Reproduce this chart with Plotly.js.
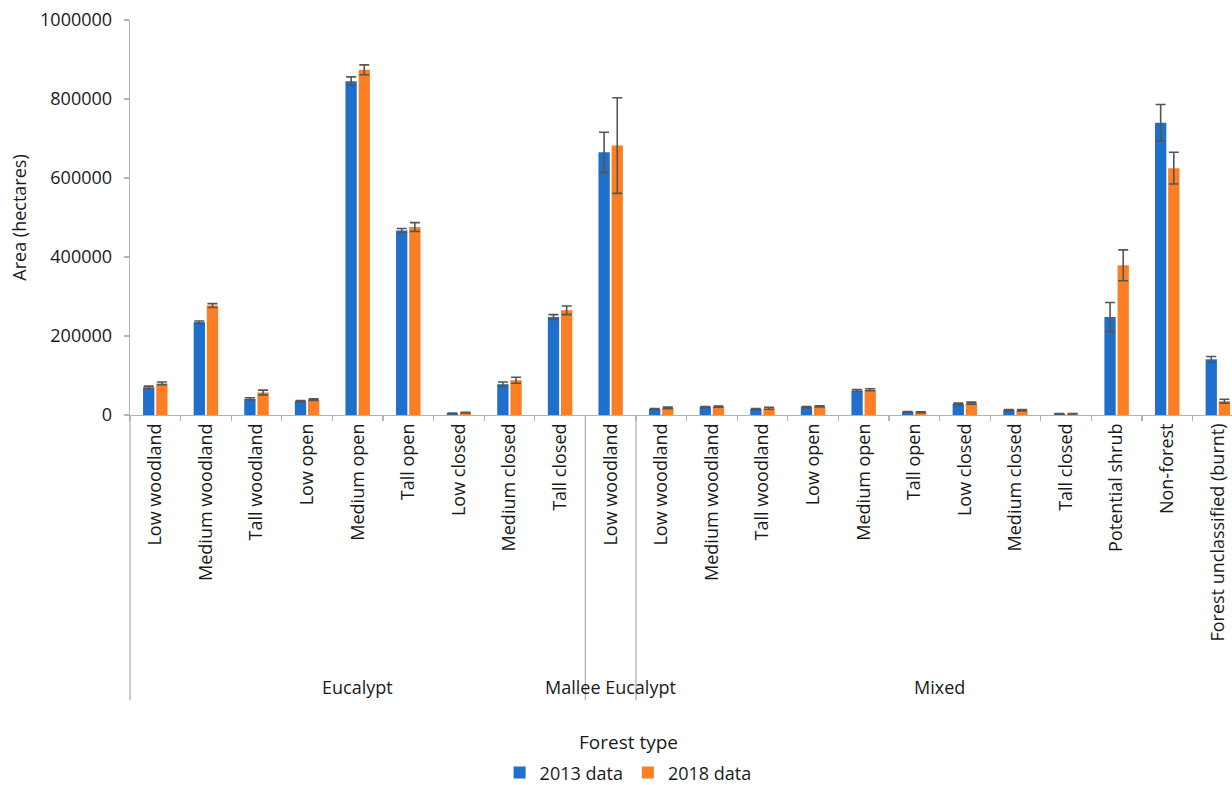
<!DOCTYPE html>
<html>
<head>
<meta charset="utf-8">
<script src="https://cdn.plot.ly/plotly-3.0.1.min.js"></script>
<style>
  html, body { margin: 0; padding: 0; background: #ffffff; }
  #chart { width: 1232px; height: 785px; }
</style>
</head>
<body>
<div id="chart"></div>
<script>
// Category labels (in order along the x-axis)
const categories = [
  "Low woodland", "Medium woodland", "Tall woodland", "Low open", "Medium open",
  "Tall open", "Low closed", "Medium closed", "Tall closed",
  "Low woodland",
  "Low woodland", "Medium woodland", "Tall woodland", "Low open", "Medium open",
  "Tall open", "Low closed", "Medium closed", "Tall closed",
  "Potential shrub", "Non-forest", "Forest unclassified (burnt)"
];

// Group names and how many categories each group covers
const groupNames = ["Eucalypt", "Mallee Eucalypt", "Mixed"];
const groupSizes = [9, 1, 12];

// Series values (hectares) and error bar half-lengths
const data2013 = [70000, 235000, 41000, 35000, 845000, 467000, 4000, 78000, 248000,
                  665000,
                  15000, 20000, 15000, 20000, 62000, 8000, 28000, 12000, 3000, 248000, 740000, 141000];
const err2013  = [3000, 3000, 2500, 1500, 11000, 5000, 1000, 5500, 6000,
                  51000,
                  1500, 1500, 1500, 1500, 2500, 1000, 2000, 1500, 500, 37000, 46000, 7000];
const data2018 = [80000, 277000, 57000, 39000, 874000, 476000, 6000, 88000, 265000,
                  682000,
                  18000, 21000, 17000, 22000, 64000, 7000, 30000, 12000, 3000, 379000, 625000, 35000];
const err2018  = [3500, 5000, 6000, 2000, 12500, 11000, 1000, 7500, 11000,
                  121000,
                  2000, 1500, 2500, 1500, 2500, 1000, 2500, 1500, 500, 39000, 40000, 5000];

const seriesNames = ["2013 data", "2018 data"];
const yTicks = [0, 200000, 400000, 600000, 800000, 1000000];
const xTitle = "Forest type";
const yTitle = "Area (hectares)";

// Category positions as indices so repeated labels stay separate
const xIdx = categories.map((_, i) => i);

const FONT = "Open Sans, Liberation Sans, sans-serif";
const AXIS_COLOR = "#b3b3b3";
const BLUE = "#1f6fcc";
const ORANGE = "#fd7f24";
const ERR_COLOR = "#555555";
const TEXT = "#1a1a1a";

const traces = [
  {
    type: "bar", name: seriesNames[0], x: xIdx, y: data2013,
    marker: { color: BLUE },
    error_y: { type: "data", array: err2013, visible: true, color: ERR_COLOR, thickness: 1.6, width: 5 }
  },
  {
    type: "bar", name: seriesNames[1], x: xIdx, y: data2018,
    marker: { color: ORANGE },
    error_y: { type: "data", array: err2018, visible: true, color: ERR_COLOR, thickness: 1.6, width: 5 }
  },
  // empty trace to activate the boundary tick axis
  { type: "scatter", x: [], y: [], xaxis: "x2", yaxis: "y", showlegend: false, hoverinfo: "skip" }
];

// Group dividers and labels, derived from group sizes
const shapes = [];
const annotations = [];
const BELOW = -0.722;  // how far dividers run below the axis (paper units)
shapes.push({ type: "line", xref: "paper", yref: "paper", x0: 0, x1: 0, y0: 0, y1: BELOW,
              line: { color: AXIS_COLOR, width: 1.3 } });
let start = 0;
groupNames.forEach((g, gi) => {
  const end = start + groupSizes[gi];
  annotations.push({
    xref: "x", yref: "paper", x: (start + end - 1) / 2, y: -0.689,
    text: g, showarrow: false, xanchor: "center", yanchor: "middle",
    font: { family: FONT, size: 18, color: TEXT }
  });
  if (gi < groupNames.length - 1) {
    shapes.push({ type: "line", xref: "x", yref: "paper", x0: end - 0.5, x1: end - 0.5, y0: 0, y1: BELOW,
                  line: { color: AXIS_COLOR, width: 1.3 } });
  }
  start = end;
});
annotations.push({
  xref: "paper", yref: "paper", x: 0.452, y: -0.828,
  text: xTitle, showarrow: false, xanchor: "center", yanchor: "middle",
  font: { family: FONT, size: 19, color: TEXT }
});

const layout = {
  width: 1232, height: 785,
  margin: { l: 130, r: 0, t: 20, b: 370, autoexpand: false },
  paper_bgcolor: "#ffffff", plot_bgcolor: "#ffffff",
  font: { family: FONT, size: 18, color: TEXT },
  barmode: "group",
  bargap: 0.48,
  bargroupgap: 0.14,
  showlegend: true,
  legend: {
    orientation: "h", x: 0.452, xanchor: "center", y: -0.906, yanchor: "middle",
    font: { family: FONT, size: 18, color: TEXT },
    itemwidth: 30, tracegroupgap: 0
  },
  xaxis: {
    type: "linear",
    range: [-0.5, 21.28],
    tickmode: "array",
    tickvals: xIdx,
    ticktext: categories,
    tickangle: -90,
    ticks: "",
    showline: true, linecolor: AXIS_COLOR, linewidth: 1.3,
    showgrid: false, zeroline: false,
    tickfont: { family: FONT, size: 18, color: TEXT },
    fixedrange: true
  },
  xaxis2: {
    overlaying: "x",
    type: "linear",
    range: [-0.5, 21.28],
    tickmode: "linear", tick0: -0.5, dtick: 1,
    ticks: "outside", ticklen: 5, tickwidth: 1.3, tickcolor: AXIS_COLOR,
    showticklabels: false, showline: false, showgrid: false, zeroline: false,
    anchor: "y", side: "bottom"
  },
  yaxis: {
    range: [0, 1000000],
    tickmode: "array",
    tickvals: yTicks,
    ticktext: yTicks.map(v => String(v)),
    ticks: "outside", ticklen: 5, tickwidth: 1.3, tickcolor: AXIS_COLOR,
    ticklabelstandoff: 8,
    showline: true, linecolor: AXIS_COLOR, linewidth: 1.3,
    showgrid: false, zeroline: false,
    tickfont: { family: FONT, size: 18, color: TEXT },
    title: { text: yTitle, font: { family: FONT, size: 18, color: TEXT }, standoff: 8 }
  },
  shapes: shapes,
  annotations: annotations
};

Plotly.newPlot("chart", traces, layout, { displayModeBar: false, staticPlot: true });
</script>
</body>
</html>
